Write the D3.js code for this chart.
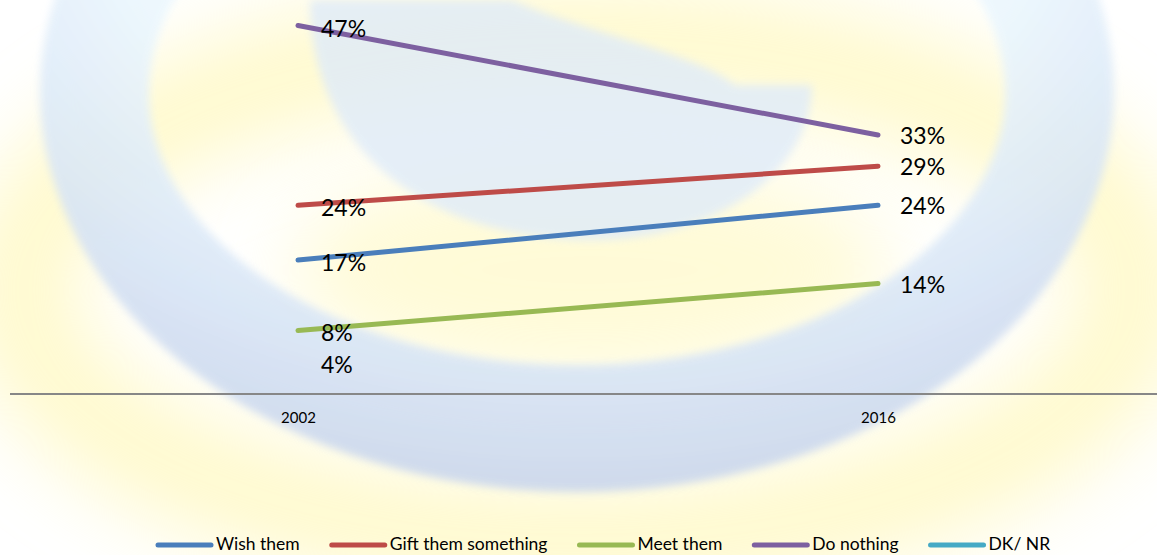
<!DOCTYPE html>
<html><head><meta charset="utf-8">
<script src="https://cdn.jsdelivr.net/npm/d3@7/dist/d3.min.js"></script>
<style>html,body{margin:0;padding:0;background:#fff;overflow:hidden}svg{display:block}</style>
</head><body><svg id="c" width="1157" height="555"></svg>
<script>
const years = ["2002", "2016"];
const seriesNames = ["Wish them", "Gift them something", "Meet them", "Do nothing", "DK/ NR"];
const wishThem = [17, 24];
const giftThem = [24, 29];
const meetThem = [8, 14];
const doNothing = [47, 33];
const dkNr = [4, null];
const colors = ["#4a7ebb", "#be4b48", "#98b954", "#7d60a0", "#46aac5"];
const allValues = [wishThem, giftThem, meetThem, doNothing, dkNr];

const svg = d3.select("#c");
const W = 1157, H = 555;
const defs = svg.append("defs");
defs.append("filter").attr("id","blurBig").attr("x","-50%").attr("y","-50%").attr("width","200%").attr("height","200%")
  .append("feGaussianBlur").attr("stdDeviation", 40);
defs.append("filter").attr("id","blurSm").attr("x","-20%").attr("y","-20%").attr("width","140%").attr("height","140%")
  .append("feGaussianBlur").attr("stdDeviation", 4);
const rg = defs.append("radialGradient").attr("id","ringGrad").attr("cx","50%").attr("cy","20%").attr("r","80%");
rg.append("stop").attr("offset","55%").attr("stop-color","#ebf7fe");
rg.append("stop").attr("offset","80%").attr("stop-color","#d8e5f6");
rg.append("stop").attr("offset","100%").attr("stop-color","#c8d5ec");

// watermark background
const wm = svg.append("g");
wm.append("ellipse").attr("cx",577).attr("cy",290).attr("rx",560).attr("ry",250)
  .attr("fill","none").attr("stroke","#fff49a").attr("stroke-width",110).attr("opacity",0.5).attr("filter","url(#blurBig)");
wm.append("ellipse").attr("cx",590).attr("cy",270).attr("rx",300).attr("ry",110)
  .attr("fill","#fff7b0").attr("opacity",0.5).attr("filter","url(#blurBig)");
function ell(cx,cy,rx,ry){return `M${cx-rx},${cy} a${rx},${ry} 0 1,0 ${2*rx},0 a${rx},${ry} 0 1,0 ${-2*rx},0 Z`;}
wm.append("path").attr("d", ell(577,92,537,400) + ell(577,92,428,273)).attr("fill-rule","evenodd")
  .attr("fill","url(#ringGrad)").attr("opacity",0.88).attr("filter","url(#blurSm)");
wm.append("path").attr("d","M310,0 C310,160 440,240 590,240 C720,240 812,170 812,85 L735,85 C700,55 580,30 512,0 Z")
  .attr("fill","#dfebf9").attr("opacity",0.8).attr("filter","url(#blurSm)");

// scales
const x = d3.scalePoint().domain(years).range([298, 878]);
const y = d3.scaleLinear().domain([0, 50]).range([393, 2]);

// axis
const axis = svg.append("g").attr("transform","translate(0,394)")
  .call(d3.axisBottom(x).tickSize(0).tickPadding(18));
axis.select(".domain").remove();
axis.selectAll("text").attr("font-family","Lato, sans-serif").attr("font-size",15).attr("fill","#000");
svg.append("line").attr("x1",10).attr("x2",W).attr("y1",394).attr("y2",394).attr("stroke","#878787").attr("stroke-width",2);

// lines (only series with at least two points form a line)
const line = d3.line().defined(d => d.v != null).x(d => x(d.year)).y(d => y(d.v));
allValues.forEach((vals, i) => {
  const pts = vals.map((v, j) => ({year: years[j], v}));
  if (pts.filter(p => p.v != null).length < 2) return;
  svg.append("path").datum(pts).attr("d", line).attr("fill","none")
    .attr("stroke", colors[i]).attr("stroke-width",5).attr("stroke-linecap","round");
});
// labels
allValues.forEach((vals, i) => {
  vals.forEach((v, j) => {
    if (v == null) return;
    const isLeft = j === 0;
    svg.append("text").attr("x", x(years[j]) + (isLeft ? 23 : 22)).attr("y", y(v) + (isLeft ? 3 : 1))
      .attr("dy","0.35em").attr("font-family","Lato, sans-serif").attr("font-size",23).attr("fill","#000")
      .text(v + "%");
  });
});

// legend
const lg = svg.append("g");
let lx = 158;
seriesNames.forEach((name, i) => {
  lg.append("line").attr("x1", lx).attr("x2", lx + 53).attr("y1",545).attr("y2",545)
    .attr("stroke", colors[i]).attr("stroke-width",5).attr("stroke-linecap","round");
  const t = lg.append("text").attr("x", lx + 58).attr("y", 550).attr("font-family","Lato, sans-serif")
    .attr("font-size",17.5).attr("fill","#000").text(name);
  lx += 58 + t.node().getComputedTextLength() + 32;
});
</script></body></html>
